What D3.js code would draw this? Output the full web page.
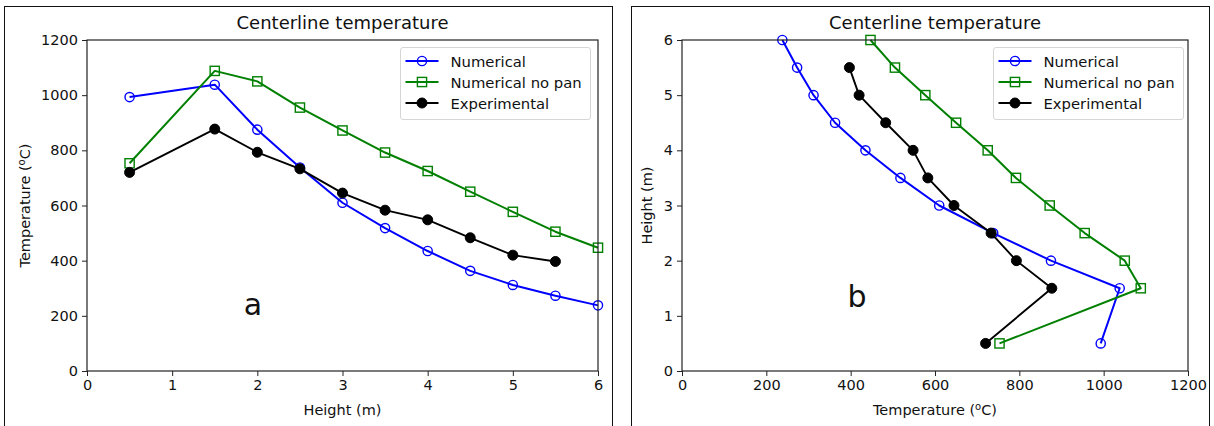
<!DOCTYPE html>
<html>
<head>
<meta charset="utf-8">
<script src="https://cdn.jsdelivr.net/npm/d3@7"></script>
<style>
  html, body { margin: 0; padding: 0; background: #fff; }
  svg { display: block; }
  text { font-family: "DejaVu Sans", sans-serif; fill: #111; }
</style>
</head>
<body>
<svg id="chart" width="1214" height="426"></svg>
<script>
// ---- data ----
const heights = [0.5, 1.5, 2, 2.5, 3, 3.5, 4, 4.5, 5, 5.5, 6];
const numerical = [993, 1038, 875, 738, 610, 518, 435, 363, 312, 273, 238];
const numericalNoPan = [753, 1088, 1050, 955, 872, 792, 725, 650, 577, 505, 447];
const experimentalHeights = [0.5, 1.5, 2, 2.5, 3, 3.5, 4, 4.5, 5, 5.5];
const experimental = [720, 877, 793, 733, 645, 583, 548, 483, 420, 397];
const heightTicks = [0, 1, 2, 3, 4, 5, 6];
const tempTicks = [0, 200, 400, 600, 800, 1000, 1200];
const seriesNames = ["Numerical", "Numerical no pan", "Experimental"];
const titleText = "Centerline temperature";

const series = [
  { name: seriesNames[0], h: heights, t: numerical, color: "#0000ff", marker: "circle" },
  { name: seriesNames[1], h: heights, t: numericalNoPan, color: "#008000", marker: "square" },
  { name: seriesNames[2], h: experimentalHeights, t: experimental, color: "#000000", marker: "dot" }
];

const svg = d3.select("#chart");

// panel borders
svg.append("rect").attr("x", 4.5).attr("y", 6.5).attr("width", 608).attr("height", 440)
  .attr("fill", "none").attr("stroke", "#111").attr("stroke-width", 1);
svg.append("rect").attr("x", 631.5).attr("y", 6.5).attr("width", 578).attr("height", 440)
  .attr("fill", "none").attr("stroke", "#111").attr("stroke-width", 1);

function drawMarker(g, type, x, y, color) {
  if (type === "circle") {
    g.append("circle").attr("cx", x).attr("cy", y).attr("r", 4.6)
      .attr("fill", "none").attr("stroke", color).attr("stroke-width", 1.4);
  } else if (type === "square") {
    g.append("rect").attr("x", x - 4.6).attr("y", y - 4.6).attr("width", 9.2).attr("height", 9.2)
      .attr("fill", "none").attr("stroke", color).attr("stroke-width", 1.4);
  } else {
    g.append("circle").attr("cx", x).attr("cy", y).attr("r", 5)
      .attr("fill", color).attr("stroke", color).attr("stroke-width", 1);
  }
}

function tempLabel(sel) {
  sel.text("Temperature (");
  sel.append("tspan").attr("baseline-shift", "super").attr("font-size", "10px").text("o");
  sel.append("tspan").text("C)");
}

function panel(opts) {
  const { left, right, top, bottom, swap, letter, letterX, letterY, legendX } = opts;
  const g = svg.append("g");
  const xDomain = swap ? [0, 1200] : [0, 6];
  const yDomain = swap ? [0, 6] : [0, 1200];
  const x = d3.scaleLinear().domain(xDomain).range([left, right]);
  const y = d3.scaleLinear().domain(yDomain).range([bottom, top]);

  // data lines
  series.forEach(s => {
    const pts = s.h.map((h, i) => swap ? [s.t[i], h] : [h, s.t[i]]);
    const line = d3.line().x(d => x(d[0])).y(d => y(d[1]));
    g.append("path").attr("d", line(pts)).attr("fill", "none")
      .attr("stroke", s.color).attr("stroke-width", s.marker === "dot" ? 1.9 : 2)
      .attr("stroke-linejoin", "round");
    pts.forEach(p => drawMarker(g, s.marker, x(p[0]), y(p[1]), s.color));
  });

  // frame
  g.append("rect").attr("x", left).attr("y", top).attr("width", right - left).attr("height", bottom - top)
    .attr("fill", "none").attr("stroke", "#222").attr("stroke-width", 1.2);

  // axes
  const fmt = d3.format("d");
  const xAxis = d3.axisBottom(x).tickValues(swap ? tempTicks : heightTicks).tickFormat(fmt).tickSizeOuter(0).tickSize(5).tickPadding(4);
  const yAxis = d3.axisLeft(y).tickValues(swap ? heightTicks : tempTicks).tickFormat(fmt).tickSizeOuter(0).tickSize(5).tickPadding(4);
  const gx = g.append("g").attr("transform", `translate(0,${bottom})`).call(xAxis);
  const gy = g.append("g").attr("transform", `translate(${left},0)`).call(yAxis);
  [gx, gy].forEach(ax => {
    ax.select(".domain").remove();
    ax.selectAll("line").attr("stroke", "#222").attr("stroke-width", 1);
    ax.selectAll("text").attr("font-size", "14.5px").attr("font-family", "DejaVu Sans, sans-serif").attr("fill", "#111");
  });

  // title
  g.append("text").attr("x", (left + right) / 2).attr("y", 29).attr("text-anchor", "middle")
    .attr("font-size", "18px").text(titleText);

  // axis labels
  const xl = g.append("text").attr("x", (left + right) / 2).attr("y", 415).attr("text-anchor", "middle")
    .attr("font-size", "14.5px");
  const yl = g.append("text").attr("text-anchor", "middle").attr("font-size", "14.5px");
  if (swap) {
    tempLabel(xl); yl.text("Height (m)");
    yl.attr("transform", `translate(${left - 30},${(top + bottom) / 2}) rotate(-90)`);
  } else {
    xl.text("Height (m)"); tempLabel(yl);
    yl.attr("transform", `translate(${left - 57},${(top + bottom) / 2}) rotate(-90)`);
  }

  // letter
  g.append("text").attr("x", letterX).attr("y", letterY).attr("text-anchor", "middle")
    .attr("font-family", "Liberation Sans, Arial, sans-serif").attr("font-size", "30px").text(letter);

  // legend
  const lg = g.append("g");
  lg.append("rect").attr("x", legendX).attr("y", 47.5).attr("width", 190).attr("height", 72).attr("rx", 2.5)
    .attr("fill", "#fff").attr("fill-opacity", 0.8).attr("stroke", "#d6d6d6").attr("stroke-width", 1);
  series.forEach((s, i) => {
    const yy = 61 + i * 21;
    lg.append("line").attr("x1", legendX + 5).attr("x2", legendX + 38).attr("y1", yy).attr("y2", yy)
      .attr("stroke", s.color).attr("stroke-width", 2);
    drawMarker(lg, s.marker, legendX + 21.5, yy, s.color);
    lg.append("text").attr("x", legendX + 50).attr("y", yy + 5.5).attr("font-size", "14.8px").text(s.name);
  });
}

panel({ left: 87, right: 598, top: 40, bottom: 371, swap: false, letter: "a", letterX: 253, letterY: 315, legendX: 400.5 });
panel({ left: 682, right: 1188, top: 40, bottom: 371, swap: true, letter: "b", letterX: 857, letterY: 307, legendX: 993.5 });
</script>
</body>
</html>
